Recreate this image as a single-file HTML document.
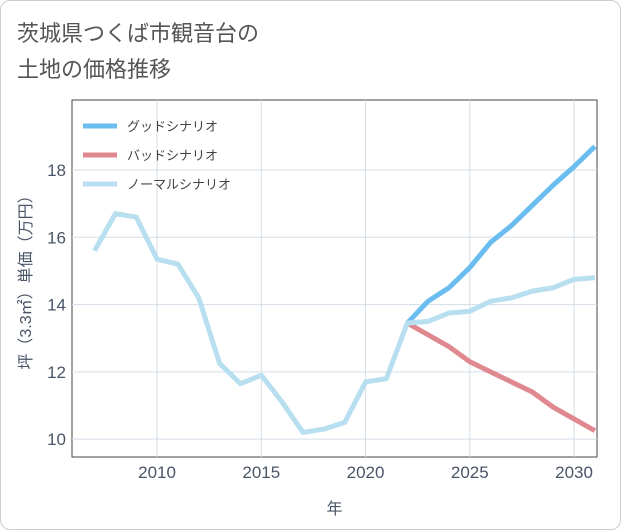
<!DOCTYPE html>
<html><head><meta charset="utf-8">
<style>
body{margin:0;background:#fff;font-family:"Liberation Sans","Noto Sans CJK JP",sans-serif;}
#card{position:absolute;left:0;top:0;width:619px;height:528px;border:1px solid #ccc;border-radius:10px;background:#fff;}
#title{position:absolute;left:17px;top:16px;font-size:22px;line-height:36px;color:#555;font-family:"Liberation Sans","Noto Sans CJK JP",sans-serif;}
svg{position:absolute;left:0;top:0;}
</style></head><body>
<div id="card"></div>
<div id="title">茨城県つくば市観音台の<br>土地の価格推移</div>
<svg id="chart" width="621" height="530"></svg>
<script>
const years=[2007,2008,2009,2010,2011,2012,2013,2014,2015,2016,2017,2018,2019,2020,2021,2022,2023,2024,2025,2026,2027,2028,2029,2030,2031];
const normalValues=[15.6,16.7,16.6,15.35,15.2,14.2,12.25,11.65,11.9,11.1,10.2,10.3,10.5,11.7,11.8,13.45,13.5,13.75,13.8,14.1,14.2,14.4,14.5,14.75,14.8];
const goodYears=[2022,2023,2024,2025,2026,2027,2028,2029,2030,2031];
const goodValues=[13.45,14.1,14.5,15.1,15.85,16.35,16.95,17.55,18.1,18.7];
const badValues=[13.45,13.1,12.75,12.3,12.0,11.7,11.4,10.95,10.6,10.25];
const xTicks=[2010,2015,2020,2025,2030];
const yTicks=[10,12,14,16,18];
const legendLabels=["グッドシナリオ","バッドシナリオ","ノーマルシナリオ"];
const colors=["#6bbdf0","#e08890","#b8dff0"];

const L=72,R=597,T=100,B=457,x0=2005.92,x1=2031.1,y0=9.47,y1=20.08;
const sx=v=>L+(v-x0)/(x1-x0)*(R-L);
const sy=v=>B-(v-y0)/(y1-y0)*(B-T);
const svg=document.getElementById('chart');
const NS='http://www.w3.org/2000/svg';
function mk(t,a){const e=document.createElementNS(NS,t);for(const k in a)e.setAttribute(k,a[k]);svg.appendChild(e);return e;}

const bg=mk('rect',{x:L,y:T,width:R-L,height:B-T,fill:'#fff',stroke:'#444','stroke-width':1});


for(const t of xTicks){
  const g=mk('line',{x1:sx(t),x2:sx(t),y1:T,y2:B,stroke:'#d5dde6','stroke-width':1});
  
  
  const tx=mk('text',{x:sx(t),y:B+21,'text-anchor':'middle','font-size':17,fill:'#4a5568'});
  tx.textContent=t;
  
  
}
for(const t of yTicks){
  const g=mk('line',{x1:L,x2:R,y1:sy(t),y2:sy(t),stroke:'#d5dde6','stroke-width':1});
  
  
  const tx=mk('text',{x:L-6,y:sy(t)+6,'text-anchor':'end','font-size':17,fill:'#4a5568'});
  tx.textContent=t;
  
  
}
const xt=mk('text',{x:(L+R)/2,y:514,'text-anchor':'middle','font-size':16,fill:'#4a5568'});
xt.textContent='年';


const yt=mk('text',{x:0,y:0,'text-anchor':'middle','font-size':16,fill:'#4a5568',transform:`translate(31,${(T+B)/2}) rotate(-90)`});
yt.textContent='坪（3.3㎡）単価（万円）';



function line(xs,ys,c,name){
  const p=mk('polyline',{points:xs.map((v,i)=>sx(v)+','+sy(ys[i])).join(' '),fill:'none',stroke:c,'stroke-width':5,'stroke-linejoin':'round'});
  
  
}
line(goodYears,goodValues,colors[0],'good-scenario-line');
line(goodYears,badValues,colors[1],'bad-scenario-line');
line(years,normalValues,colors[2],'normal-scenario-line');

legendLabels.forEach((lb,i)=>{
  const y=126+i*29;
  const l=mk('line',{x1:83,x2:117,y1:y,y2:y,stroke:colors[i],'stroke-width':5});
  
  
  const t=mk('text',{x:127,y:y+5,'font-size':13,fill:'#444'});
  t.textContent=lb;
  
  
});
</script>
</body></html>
